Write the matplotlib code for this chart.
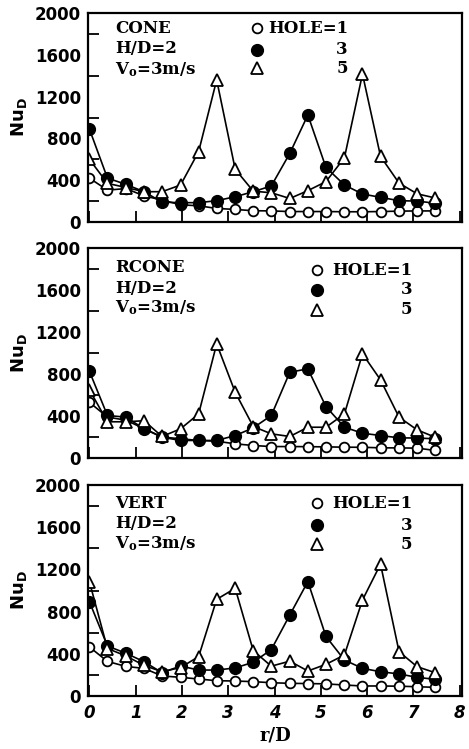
import matplotlib
matplotlib.use('Agg')
import matplotlib.pyplot as plt
from matplotlib.ticker import MultipleLocator

# r/D positions of the measuring holes
r_d = [0.0, 0.39, 0.79, 1.18, 1.57, 1.97, 2.36, 2.75, 3.15, 3.54,
       3.93, 4.33, 4.72, 5.11, 5.51, 5.90, 6.29, 6.69, 7.08, 7.47]

# CONE
cone_h1 = [420, 305, 320, 250, 210, 165, 155, 130, 120, 108, 106, 100, 100, 100, 98, 98, 100, 104, 106, 106]
cone_h3 = [890, 420, 360, 290, 190, 185, 185, 204, 242, 290, 345, 657, 1024, 523, 354, 268, 236, 204, 200, 180]
cone_h5 = [600, 370, 330, 290, 290, 354, 673, 1360, 505, 295, 280, 225, 300, 386, 615, 1416, 628, 372, 270, 230]

# RCONE
rcone_h1 = [530, 390, 360, 280, 200, 183, 167, 160, 135, 119, 109, 109, 108, 106, 103, 102, 97, 96, 94, 72]
rcone_h3 = [826, 405, 389, 278, 198, 167, 167, 167, 214, 287, 405, 817, 849, 490, 293, 236, 214, 192, 190, 183]
rcone_h5 = [650, 345, 345, 355, 205, 278, 420, 1087, 626, 300, 230, 205, 293, 293, 420, 992, 744, 389, 268, 198]

# VERT
vert_h1 = [465, 328, 280, 262, 190, 177, 161, 145, 142, 136, 126, 120, 118, 115, 104, 95, 95, 93, 88, 82]
vert_h3 = [894, 474, 405, 325, 221, 284, 246, 246, 266, 320, 440, 768, 1085, 565, 341, 262, 230, 209, 177, 158]
vert_h5 = [1084, 450, 380, 290, 230, 270, 373, 916, 1021, 430, 283, 330, 237, 300, 389, 910, 1250, 420, 278, 221]

names = ['CONE', 'RCONE', 'VERT']
hole_labels = ['HOLE=1', '3', '5']

W, H = 469, 749
fig = plt.figure(figsize=(W / 100, H / 100), dpi=100)

# panel boxes in pixels: (top, bottom)
boxes = [(13, 222), (248, 458), (485, 696)]
left_px, right_px = 88, 462
legend_x = [0.452, 0.611, 0.611]
legend_tx = [0.695, 0.867, 0.867]
rows_txt = [[0.927, 0.831, 0.727], [0.908, 0.808, 0.716], [0.913, 0.818, 0.72]]
rows_leg = [[0.927, 0.823, 0.735], [0.895, 0.80, 0.705], [0.913, 0.81, 0.72]]

data = [(cone_h1, cone_h3, cone_h5), (rcone_h1, rcone_h3, rcone_h5), (vert_h1, vert_h3, vert_h5)]

serif = 'DejaVu Serif'
styles = [dict(marker='o', mfc='white', mec='black', ms=7, mew=1.3),
          dict(marker='o', mfc='black', mec='black', ms=8.5, mew=1.0),
          dict(marker='^', mfc='white', mec='black', ms=8, mew=1.3)]

for k in range(3):
    top, bot = boxes[k]
    ax = fig.add_axes([left_px / W, 1 - bot / H, (right_px - left_px) / W, (bot - top) / H])
    for ys, st in zip(data[k], styles):
        ax.plot(r_d, ys, color='black', lw=1.2, **st)
    ax.set_xlim(-0.03, 8.05)
    ax.set_ylim(0, 2000)
    ax.xaxis.set_major_locator(MultipleLocator(1))
    ax.yaxis.set_major_locator(MultipleLocator(400))
    ax.yaxis.set_minor_locator(MultipleLocator(200))
    ax.tick_params(axis='y', which='major', length=0, pad=5, labelsize=12)
    ax.tick_params(axis='y', which='minor', direction='in', length=8, width=1.3)
    ax.tick_params(axis='x', which='major', direction='in', length=8, width=1.3, pad=6)
    for lab in ax.get_yticklabels():
        lab.set_fontweight('bold')
    for s in ax.spines.values():
        s.set_linewidth(1.6)
    ax.set_ylabel(r'$\mathbf{Nu_D}$', fontsize=13, labelpad=4, math_fontfamily='dejavusans')
    if k < 2:
        ax.set_xticklabels([])
    else:
        ax.set_xticks(range(9))
        ax.set_xticklabels([str(v) for v in range(9)], fontsize=12,
                           fontweight='bold', fontstyle='italic')
        ax.set_xlabel('r/D', fontsize=13, fontweight='bold', family=serif, labelpad=3)

    # case description
    tx = 0.072
    ax.text(tx, rows_txt[k][0], names[k], transform=ax.transAxes, family=serif,
            fontweight='bold', fontsize=12, va='center')
    ax.text(tx, rows_txt[k][1], 'H/D=2', transform=ax.transAxes, family=serif,
            fontweight='bold', fontsize=12, va='center')
    ax.text(tx, rows_txt[k][2], r'V$_{\mathbf{o}}$=3m/s', transform=ax.transAxes, family=serif,
            fontweight='bold', fontsize=12, va='center', math_fontfamily='dejavuserif')

    # hand-made legend
    for j in range(3):
        ax.plot([legend_x[k]], [rows_leg[k][j]], transform=ax.transAxes,
                color='black', ls='none', clip_on=False, **styles[j])
        ax.text(legend_tx[k], rows_leg[k][j], hole_labels[j], transform=ax.transAxes,
                family=serif, fontweight='bold', fontsize=12, va='center', ha='right')

fig.savefig('out.png', dpi=100)
